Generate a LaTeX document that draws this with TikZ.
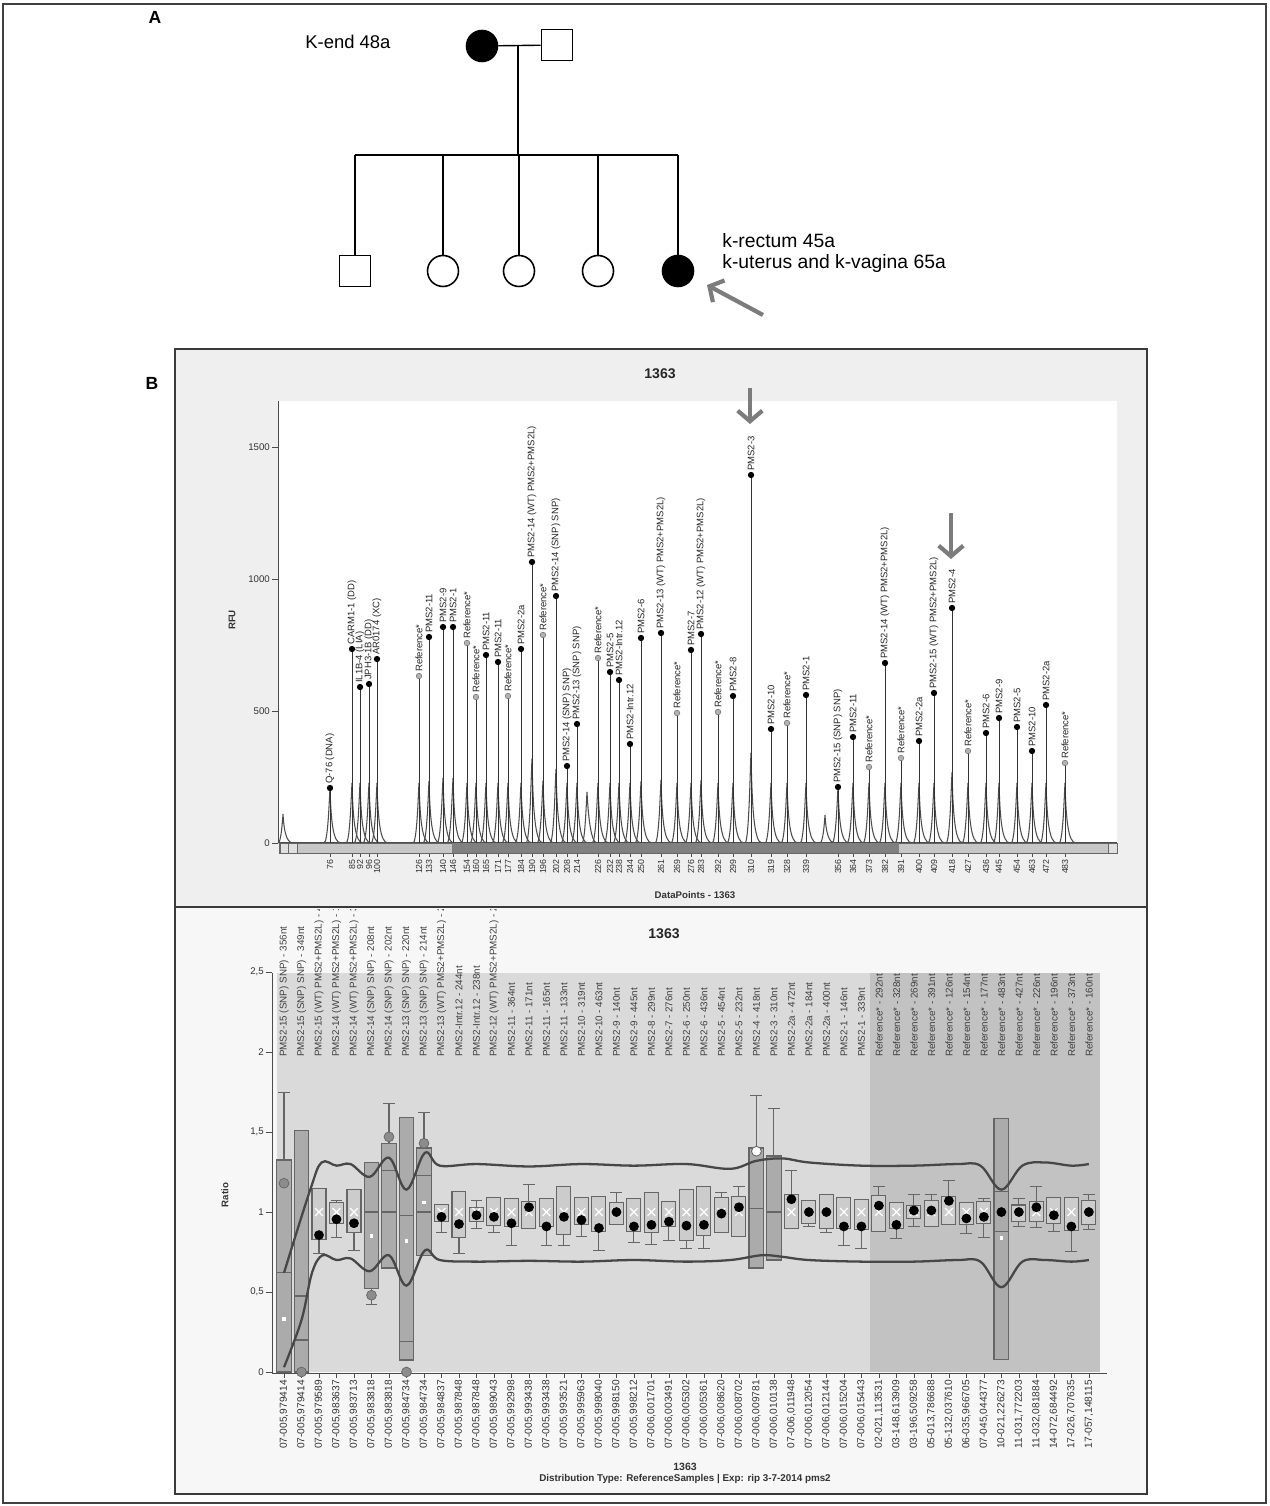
\documentclass[tikz,border=0pt]{standalone}
\usepackage{fontspec}
\setmainfont{Liberation Sans}
\usetikzlibrary{arrows.meta}

\definecolor{framegray}{HTML}{3A3A3A}
\definecolor{chartbg}{HTML}{EFEFEF}
\definecolor{plotlight}{HTML}{DADADA}
\definecolor{plotdark}{HTML}{C2C2C2}
\definecolor{arrowgray}{HTML}{7C7C7C}

\tikzset{
  person/.style={draw, line width=0.9pt, minimum size=0.62cm, inner sep=0pt, fill=white},
  male/.style={person, rectangle},
  female/.style={person, circle},
  affected/.style={fill=black},
  kin/.style={line width=0.8pt},
  pedtext/.style={font=\fontsize{10.5}{12}\selectfont, inner sep=0pt, anchor=west},
  panel/.style={font=\bfseries\fontsize{10}{12}\selectfont, inner sep=0pt},
  hint/.style={draw=arrowgray, line width=2.4pt, -{Straight Barb[length=6pt,width=14pt]}},
  chartbox/.style={draw=framegray, line width=1.2pt},
  charttitle/.style={font=\bfseries\fontsize{8}{9}\selectfont, text=black!85, inner sep=0pt},
  axisname/.style={font=\bfseries\fontsize{5.5}{6}\selectfont, text=black!80, inner sep=0pt},
  axisline/.style={draw=black!70, line width=0.5pt},
  ticklab/.style={font=\fontsize{5.5}{6}\selectfont, text=black!80, inner sep=1pt, anchor=east},
  sizelab/.style={font=\fontsize{5}{6}\selectfont, text=black!80, inner sep=0.5pt, rotate=90, anchor=east},
  peaklab/.style={font=\fontsize{5.4}{6}\selectfont, text=black!85, inner sep=0.5pt, rotate=90, anchor=west},
  trace/.style={draw=black!70, line width=0.6pt},
  stem/.style={draw=black!80, line width=0.5pt},
  refdot/.style={fill=black!30, draw=black!55, line width=0.3pt},
  collab/.style={font=\fontsize{5.6}{6}\selectfont, text=black!75, inner sep=0.5pt, rotate=90, anchor=west},
  samplelab/.style={font=\fontsize{5.8}{6}\selectfont, text=black!80, inner sep=0.5pt, rotate=90, anchor=east},
  whisker/.style={draw=black!60, line width=0.6pt},
  normbox/.style={draw=black!60, fill=black!20, line width=0.6pt},
  tallbox/.style={draw=black!60, fill=black!33, line width=0.7pt},
  limit/.style={draw=black!72, line width=1.3pt},
  outlier/.style={fill=black!45, draw=black!60, line width=0.4pt},
  footer/.style={font=\bfseries\fontsize{5.6}{6}\selectfont, text=black!80, inner sep=0pt}
}

\begin{document}
\begin{tikzpicture}[x=0.02cm, y=-0.02cm]
  \useasboundingbox (0,0) rectangle (1269,1506);
  \fill[white] (0,0) rectangle (1269,1506);
  \draw[black!75, line width=0.8pt] (3,4) rectangle (1266,1503);

  % pedigree
  \node[panel] (labA) at (155,17) {A};
  \node[pedtext] (motherinfo) at (305,42) {K-end 48a};
  \node[female, affected] (mother) at (482,46) {};
  \node[male] (father) at (557,45) {};
  \coordinate (mate) at (518,46);
  \coordinate (sibship) at (518,155);
  \node[male] (son) at (355,271) {};
  \node[female] (dau1) at (443,271) {};
  \node[female] (dau2) at (519,271) {};
  \node[female] (dau3) at (598,271) {};
  \node[female, affected] (proband) at (678,271) {};
  \draw[kin] (mother) -- (father);
  \draw[kin] (mate) -- (sibship);
  \draw[kin] (son |- sibship) -- (proband |- sibship);
  \foreach \kid in {son,dau1,dau2,dau3,proband}
    \draw[kin] (\kid |- sibship) -- (\kid);
  \node[pedtext, align=left, font=\fontsize{11}{12.2}\selectfont] (probandinfo) at (722,253)
    {k-rectum 45a\\k-uterus and k-vagina 65a};
  \coordinate (pointer) at (763,315);
  \coordinate (pointertip) at (707,285);
  \draw[hint] (pointer) -- (pointertip);

  % electropherogram
  \node[panel] (labB) at (152,383) {B};
  \draw[chartbox, fill=chartbg] (175,349) rectangle (1147,907);
  \fill[white] (278,401) rectangle (1117,843);
  \node[charttitle] (toptitle) at (660,374) {1363};
  \node[axisname, rotate=90] (rfu) at (232,620) {RFU};
  \draw[axisline] (278,401) -- (278,843);
  \foreach \v/\y in {0/843,500/711,1000/579,1500/447}
    \draw[axisline] (272,\y) -- (278,\y) node[ticklab, at start] (rfu\v) {\v};

  \foreach \px/\py in {283/814,587/792,825/815}
    \draw[trace] ({\px-5},843) .. controls ({\px-2},843) and ({\px-0.6},{\py+8}) .. (\px,\py)
      .. controls ({\px+0.8},{\py+15}) and ({\px+3},843) .. ({\px+10},843);
  \draw[trace] (279,843) -- (1117,843);

  \foreach \s/\px/\py/\lab/\k in {
    76/330/788/{Q-76 (DNA)}/1, 85/352/649/{CARM1-1 (DD)}/1, 92/360/687/{IL1B-4 (LIA)}/1,
    96/369/684/{JPH3-1B (DD)}/1, 100/377/659/{AR0174 (XC)}/1, 126/419/676/{Reference*}/0,
    133/429/637/{PMS2-11}/1, 140/443/627/{PMS2-9}/1, 146/453/627/{PMS2-1}/1,
    154/467/643/{Reference*}/0, 160/476/697/{Reference*}/0, 165/486/655/{PMS2-11}/1,
    171/498/662/{PMS2-11}/1, 177/508/696/{Reference*}/0, 184/521/649/{PMS2-2a}/1,
    190/532/562/{PMS2-14 (WT) PMS2+PMS2L)}/1, 196/543/635/{Reference*}/0,
    202/556/596/{PMS2-14 (SNP) SNP)}/1, 208/567/766/{PMS2-14 (SNP) SNP)}/1,
    214/577/724/{PMS2-13 (SNP) SNP)}/1, 226/598/658/{Reference*}/0, 232/610/672/{PMS2-5}/1,
    238/619/680/{PMS2-Intr.12}/1, 244/630/744/{PMS2-Intr.12}/1, 250/641/638/{PMS2-6}/1,
    261/661/633/{PMS2-13 (WT) PMS2+PMS2L)}/1, 269/677/713/{Reference*}/0, 276/691/650/{PMS2-7}/1,
    283/701/634/{PMS2-12 (WT) PMS2+PMS2L)}/1, 292/718/712/{Reference*}/0, 299/733/696/{PMS2-8}/1,
    310/751/475/{PMS2-3}/1, 319/771/729/{PMS2-10}/1, 328/787/723/{Reference*}/0,
    339/806/695/{PMS2-1}/1, 356/838/787/{PMS2-15 (SNP) SNP)}/1, 364/853/737/{PMS2-11}/1,
    373/869/767/{Reference*}/0, 382/885/663/{PMS2-14 (WT) PMS2+PMS2L)}/1, 391/901/758/{Reference*}/0,
    400/919/741/{PMS2-2a}/1, 409/934/693/{PMS2-15 (WT) PMS2+PMS2L)}/1, 418/952/608/{PMS2-4}/1,
    427/968/751/{Reference*}/0, 436/986/733/{PMS2-6}/1, 445/999/718/{PMS2-9}/1,
    454/1017/727/{PMS2-5}/1, 463/1032/751/{PMS2-10}/1, 472/1046/705/{PMS2-2a}/1,
    483/1065/763/{Reference*}/0}
  {
    \pgfmathsetmacro\bh{(843-\py<70) ? (843-\py) : min(max(60,0.3*(843-\py)),90)}
    \draw[trace] ({\px-6},843) .. controls ({\px-2},843) and ({\px-0.7},{843-\bh+10}) .. (\px,{843-\bh})
      .. controls ({\px+1},{843-0.4*\bh}) and ({\px+3},843) .. ({\px+11},843);
    \draw[stem] (\px,843) -- (\px,\py);
    \ifnum\k=1
      \fill[black] (\px,\py) circle[radius=1.8pt];
    \else
      \filldraw[refdot] (\px,\py) circle[radius=1.6pt];
    \fi
    \node[peaklab] (peak\s) at (\px,{\py-3}) {\lab};
    \draw[axisline] (\px,853) -- (\px,857);
    \node[sizelab] (size\s) at (\px,858) {\s};
  }

  \draw[black!60, fill=black!22, line width=0.4pt] (279,843) rectangle (1117,853);
  \fill[black!50] (452,843) rectangle (899,853);
  \draw[black!60, fill=black!12, line width=0.4pt] (280,843) rectangle (288,853) (288,843) rectangle (297,853)
    (1108,843) rectangle (1117,853);
  \node[axisname] (datapoints) at (695,895) {DataPoints - 1363};

  \coordinate (cueA) at (750,388);
  \coordinate (cueAtip) at (750,424);
  \coordinate (cueB) at (951,513);
  \coordinate (cueBtip) at (951,559);
  \draw[hint] (cueA) -- (cueAtip);
  \draw[hint] (cueB) -- (cueBtip);

  % ratio chart
  \draw[chartbox, fill=black!3] (175,907) rectangle (1147,1494);
  \node[charttitle] (bottitle) at (664,934) {1363};
  \fill[plotlight] (277,973) rectangle (870,1372);
  \fill[plotdark] (870,973) rectangle (1100,1372);
  \node[axisname, rotate=90] (ratio) at (225,1195) {Ratio};
  \draw[axisline] (272,973) -- (272,1373) -- (1107,1373);
  \foreach \r/\t in {0/0, 0.5/{0,5}, 1/1, 1.5/{1,5}, 2/2, 2.5/{2,5}}
    \draw[axisline] (266,{1372-160*\r}) -- (272,{1372-160*\r}) node[ticklab, at start] (ratio\r) {\t};

  \begin{scope}
    \clip (176,909) rectangle (1146,1493);
    \foreach \lab [count=\i] in {
      {PMS2-15 (SNP) SNP) - 356nt}, {PMS2-15 (SNP) SNP) - 349nt}, {PMS2-15 (WT) PMS2+PMS2L) - 409nt},
      {PMS2-14 (WT) PMS2+PMS2L) - 190nt}, {PMS2-14 (WT) PMS2+PMS2L) - 382nt}, {PMS2-14 (SNP) SNP) - 208nt},
      {PMS2-14 (SNP) SNP) - 202nt}, {PMS2-13 (SNP) SNP) - 220nt}, {PMS2-13 (SNP) SNP) - 214nt},
      {PMS2-13 (WT) PMS2+PMS2L) - 261nt}, {PMS2-Intr.12 - 244nt}, {PMS2-Intr.12 - 238nt},
      {PMS2-12 (WT) PMS2+PMS2L) - 283nt}, {PMS2-11 - 364nt}, {PMS2-11 - 171nt}, {PMS2-11 - 165nt},
      {PMS2-11 - 133nt}, {PMS2-10 - 319nt}, {PMS2-10 - 463nt}, {PMS2-9 - 140nt}, {PMS2-9 - 445nt},
      {PMS2-8 - 299nt}, {PMS2-7 - 276nt}, {PMS2-6 - 250nt}, {PMS2-6 - 436nt}, {PMS2-5 - 454nt},
      {PMS2-5 - 232nt}, {PMS2-4 - 418nt}, {PMS2-3 - 310nt}, {PMS2-2a - 472nt}, {PMS2-2a - 184nt},
      {PMS2-2a - 400nt}, {PMS2-1 - 146nt}, {PMS2-1 - 339nt}, {Reference* - 292nt}, {Reference* - 328nt},
      {Reference* - 269nt}, {Reference* - 391nt}, {Reference* - 126nt}, {Reference* - 154nt},
      {Reference* - 177nt}, {Reference* - 483nt}, {Reference* - 427nt}, {Reference* - 226nt},
      {Reference* - 196nt}, {Reference* - 373nt}, {Reference* - 160nt}}
      \node[collab] (probe\i) at ({266.5+17.5*\i},1058) {\lab};
  \end{scope}

  \foreach \lab [count=\i] in {
    {07-005,979414}, {07-005,979414}, {07-005,979589}, {07-005,983637}, {07-005,983713}, {07-005,983818},
    {07-005,983818}, {07-005,984734}, {07-005,984734}, {07-005,984837}, {07-005,987848}, {07-005,987848},
    {07-005,989043}, {07-005,992998}, {07-005,993438}, {07-005,993438}, {07-005,993521}, {07-005,995963},
    {07-005,998040}, {07-005,998150}, {07-005,998212}, {07-006,001701}, {07-006,003491}, {07-006,005302},
    {07-006,005361}, {07-006,008620}, {07-006,008702}, {07-006,009781}, {07-006,010138}, {07-006,011948},
    {07-006,012054}, {07-006,012144}, {07-006,015204}, {07-006,015443}, {02-021,113531}, {03-148,613909},
    {03-196,509258}, {05-013,786688}, {05-132,037610}, {06-035,966705}, {07-045,044377}, {10-021,226273},
    {11-031,772203}, {11-032,081884}, {14-072,684492}, {17-026,707635}, {17-057,148115}}
  {
    \draw[axisline] ({266.5+17.5*\i},1373) -- ({266.5+17.5*\i},1378);
    \node[samplelab] (sample\i) at ({266.5+17.5*\i},1379) {\lab};
  }

  \begin{scope}[shift={(266.5,1372)}, x=0.35cm, y=3.2cm]
    \foreach \i/\bl/\bh/\wl/\wh/\dv in {
      3/0.83/1.15/0.74/1.15/0.856, 4/0.93/1.06/0.84/1.07/0.955, 5/0.87/1.14/0.76/1.14/0.93,
      10/0.94/1.05/0.87/1.05/0.97, 11/0.84/1.13/0.74/1.13/0.925, 12/0.94/1.03/0.90/1.07/0.98,
      13/0.915/1.09/0.87/1.09/0.97, 14/0.91/1.085/0.79/1.085/0.93, 15/0.90/1.065/0.90/1.17/1.03,
      16/0.91/1.085/0.79/1.085/0.91, 17/0.86/1.16/0.79/1.16/0.97, 18/0.92/1.09/0.85/1.09/0.95,
      19/0.88/1.10/0.76/1.10/0.90, 20/0.92/1.06/0.92/1.12/1.0, 21/0.88/1.085/0.81/1.085/0.91,
      22/0.87/1.12/0.80/1.12/0.92, 23/0.91/1.065/0.82/1.065/0.94, 24/0.825/1.14/0.77/1.14/0.915,
      25/0.856/1.16/0.77/1.16/0.92, 26/0.87/1.09/0.87/1.12/0.99, 27/0.846/1.10/0.846/1.16/1.03,
      30/0.90/1.11/0.90/1.26/1.08, 31/0.93/1.07/0.91/1.07/1.0, 32/0.90/1.11/0.87/1.11/1.0,
      33/0.90/1.09/0.79/1.09/0.91, 34/0.89/1.08/0.77/1.08/0.91, 35/0.877/1.106/0.877/1.16/1.04,
      36/0.90/1.06/0.835/1.06/0.92, 37/0.96/1.04/0.91/1.11/1.01, 38/0.91/1.075/0.91/1.11/1.01,
      39/0.925/1.096/0.925/1.20/1.07, 40/0.925/1.058/0.867/1.058/0.96, 41/0.929/1.065/0.842/1.085/0.97,
      43/0.94/1.044/0.908/1.085/1.0, 44/0.94/1.065/0.904/1.16/1.03, 45/0.93/1.092/0.877/1.092/0.98,
      46/0.883/1.092/0.752/1.092/0.91, 47/0.925/1.075/0.89/1.11/1.0}
    {
      \draw[whisker] (\i,\wl) -- (\i,\wh) ({\i-0.34},\wl) -- ({\i+0.34},\wl) ({\i-0.34},\wh) -- ({\i+0.34},\wh);
      \draw[normbox] ({\i-0.4},\bl) rectangle ({\i+0.4},\bh);
      \draw[white, line width=0.7pt] ({\i-0.22},0.975) -- ({\i+0.22},1.025) ({\i-0.22},1.025) -- ({\i+0.22},0.975);
      \fill[black] (\i,\dv) circle[radius=2.8pt];
    }

    \foreach \i/\from/\to in {1/1.325/1.75, 6/0.52/0.42, 7/1.43/1.68, 9/1.40/1.62, 28/1.40/1.73, 29/1.35/1.65}
      \draw[whisker] (\i,\from) -- (\i,\to) ({\i-0.34},\to) -- ({\i+0.34},\to);
    \foreach \i/\bl/\bh/\md in {1/0/1.325/0.62, 2/0/1.51/0.475, 6/0.52/1.31/1.0, 7/0.65/1.43/1.0,
      8/0.075/1.59/0.98, 9/0.73/1.40/1.0, 28/0.65/1.40/1.02, 29/0.70/1.35/1.0, 42/0.08/1.585/0.88}
      \draw[tallbox] ({\i-0.42},\bl) rectangle ({\i+0.42},\bh) ({\i-0.42},\md) -- ({\i+0.42},\md);
    \foreach \i/\md in {2/0.2, 8/0.19, 7/1.26, 9/1.23, 42/1.13}
      \draw[whisker] ({\i-0.42},\md) -- ({\i+0.42},\md);
    \foreach \i/\md in {1/0.33, 42/0.84, 6/0.85, 8/0.82, 9/1.06}
      \fill[white] ({\i-0.1},{\md-0.012}) rectangle ({\i+0.1},{\md+0.012});

    \draw[limit] plot[smooth, tension=0.6] coordinates {(1,0.62) (2.5,1.14) (3.15,1.31) (4,1.29)
      (4.8,1.30) (5.9,1.22) (7,1.34) (8,1.14) (9.05,1.37) (9.9,1.29) (12,1.30) (15,1.285) (18,1.30)
      (21,1.29) (24,1.30) (26.5,1.27) (28,1.32) (29.5,1.335) (31,1.31) (34,1.29) (37,1.29) (39.5,1.30)
      (40.8,1.29) (42,1.14) (43.2,1.29) (44.5,1.31) (46,1.29) (47,1.30)};
    \draw[limit] plot[smooth, tension=0.6] coordinates {(1,0.03) (2,0.325) (2.6,0.62) (3.2,0.73)
      (4,0.70) (4.8,0.71) (5.9,0.63) (7,0.73) (8,0.54) (9.05,0.76) (9.9,0.70) (12,0.69) (15,0.695)
      (18,0.69) (21,0.70) (24,0.69) (26.5,0.70) (28.3,0.73) (29.5,0.72) (31,0.70) (34,0.69) (37,0.69)
      (39.5,0.70) (40.8,0.69) (42,0.53) (43.2,0.69) (44.5,0.70) (46,0.69) (47,0.70)};

    \foreach \i/\r in {1/1.18, 2/0, 6/0.48, 7/1.47, 8/0, 9/1.43}
      \filldraw[outlier] (\i,\r) circle[radius=2.8pt];
    \filldraw[fill=white, draw=black!60, line width=0.5pt] (28,1.38) circle[radius=2.8pt];
    \fill[black] (42,1.0) circle[radius=2.8pt];
  \end{scope}

  \node[footer, font=\bfseries\fontsize{6}{7}\selectfont] (footid) at (685,1467) {1363};
  \node[footer] (foottype) at (685,1479) {Distribution Type: ReferenceSamples | Exp: rip 3-7-2014 pms2};
\end{tikzpicture}
\end{document}
